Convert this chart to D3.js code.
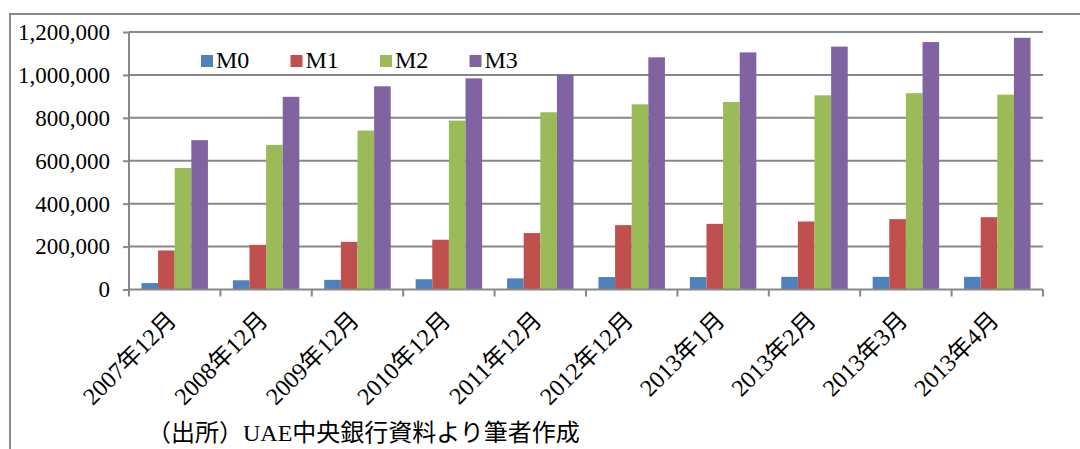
<!DOCTYPE html>
<html lang="ja">
<head>
<meta charset="UTF-8">
<title>UAE マネーサプライ</title>
<style>
  body { margin: 0; background: #fff; }
  svg { display: block; }
</style>
</head>
<body>
<script src="https://cdn.jsdelivr.net/npm/d3@7"></script>
<div id="chart"></div>
<script>
// カテゴリ（期間）
const categories = ["2007年12月", "2008年12月", "2009年12月", "2010年12月", "2011年12月",
  "2012年12月", "2013年1月", "2013年2月", "2013年3月", "2013年4月"];
const seriesNames = ["M0", "M1", "M2", "M3"];
// 各系列の値
const m0 = [30000, 43000, 45000, 48000, 52000, 58000, 58000, 59000, 59000, 59000];
const m1 = [182000, 208000, 222000, 232000, 263000, 300000, 306000, 317000, 328000, 337000];
const m2 = [566000, 674000, 741000, 787000, 826000, 863000, 874000, 905000, 915000, 908000];
const m3 = [696000, 898000, 947000, 984000, 1001000, 1082000, 1105000, 1132000, 1153000, 1173000];
const yTicks = [0, 200000, 400000, 600000, 800000, 1000000, 1200000];
const colors = ["#4F81BD", "#C0504D", "#9BBB59", "#8064A2"];
const footnote = "（出所）UAE中央銀行資料より筆者作成";

const series = [m0, m1, m2, m3];
const width = 1080, height = 449;
const plot = { left: 129, right: 1043, top: 32, bottom: 289.5 };
const gridColor = "#878787";
const serif = "'Liberation Serif', 'Noto Sans CJK JP', serif";

const svg = d3.select("#chart").append("svg")
  .attr("width", width).attr("height", height);

// 外枠
svg.append("path")
  .attr("d", `M10,${height} L10,14 L${width},14`)
  .attr("fill", "none").attr("stroke", "#888").attr("stroke-width", 2);

// スケール
const x = d3.scaleBand().domain(categories).range([plot.left, plot.right]).padding(0);
const xInner = d3.scaleBand().domain(seriesNames).range([0, x.bandwidth()])
  .paddingInner(0).paddingOuter(0.75);
const y = d3.scaleLinear().domain([0, 1200000]).range([plot.bottom, plot.top]);

// 目盛線
svg.append("g").selectAll("line").data(yTicks.filter(d => d > 0)).join("line")
  .attr("x1", plot.left).attr("x2", plot.right)
  .attr("y1", d => y(d)).attr("y2", d => y(d))
  .attr("stroke", gridColor).attr("stroke-width", 2);

// 棒
const groups = svg.append("g").selectAll("g").data(series).join("g")
  .attr("fill", (d, i) => colors[i]);
groups.selectAll("rect").data((d, i) => d.map((v, j) => ({ v, cat: categories[j], s: seriesNames[i] })))
  .join("rect")
  .attr("x", d => x(d.cat) + xInner(d.s))
  .attr("width", xInner.bandwidth())
  .attr("y", d => y(d.v))
  .attr("height", d => y(0) - y(d.v));

// Y軸
const yAxis = d3.axisLeft(y).tickValues(yTicks).tickFormat(d3.format(",")).tickSize(6).tickPadding(13);
const gy = svg.append("g").attr("transform", `translate(${plot.left},0)`).call(yAxis);
gy.select(".domain").attr("stroke", gridColor).attr("stroke-width", 2).attr("d", `M0,${plot.top}V${plot.bottom}`);
gy.selectAll(".tick line").attr("stroke", gridColor).attr("stroke-width", 2);
gy.selectAll(".tick text").attr("font-family", serif).attr("font-size", 23).attr("fill", "#000");

// X軸（区切り目盛）
const gx = svg.append("g");
gx.append("line").attr("x1", plot.left).attr("x2", plot.right)
  .attr("y1", y(0)).attr("y2", y(0)).attr("stroke", gridColor).attr("stroke-width", 2);
const bounds = categories.map(c => x(c)).concat([x(categories[categories.length - 1]) + x.bandwidth()]);
gx.selectAll("line.tk").data(bounds).join("line").attr("class", "tk")
  .attr("x1", d => d).attr("x2", d => d)
  .attr("y1", y(0)).attr("y2", y(0) + 7)
  .attr("stroke", gridColor).attr("stroke-width", 2);
gx.selectAll("text").data(categories).join("text")
  .attr("transform", d => `translate(${x(d) + x.bandwidth() / 2 + 3},${y(0) + 32}) rotate(-45)`)
  .attr("text-anchor", "end")
  .attr("font-family", serif).attr("font-size", 24).attr("fill", "#000")
  .text(d => d);

// 凡例
const legend = svg.append("g").selectAll("g").data(seriesNames).join("g")
  .attr("transform", (d, i) => `translate(${201 + i * 89.5},55)`);
legend.append("rect").attr("width", 12).attr("height", 12).attr("fill", (d, i) => colors[i]);
legend.append("text").attr("x", 15).attr("y", 13)
  .attr("font-family", serif).attr("font-size", 24).attr("fill", "#000")
  .text(d => d);

// 出所
svg.append("text").attr("x", 147).attr("y", 441)
  .attr("font-family", serif).attr("font-size", 24).attr("fill", "#000")
  .text(footnote);
</script>
</body>
</html>
